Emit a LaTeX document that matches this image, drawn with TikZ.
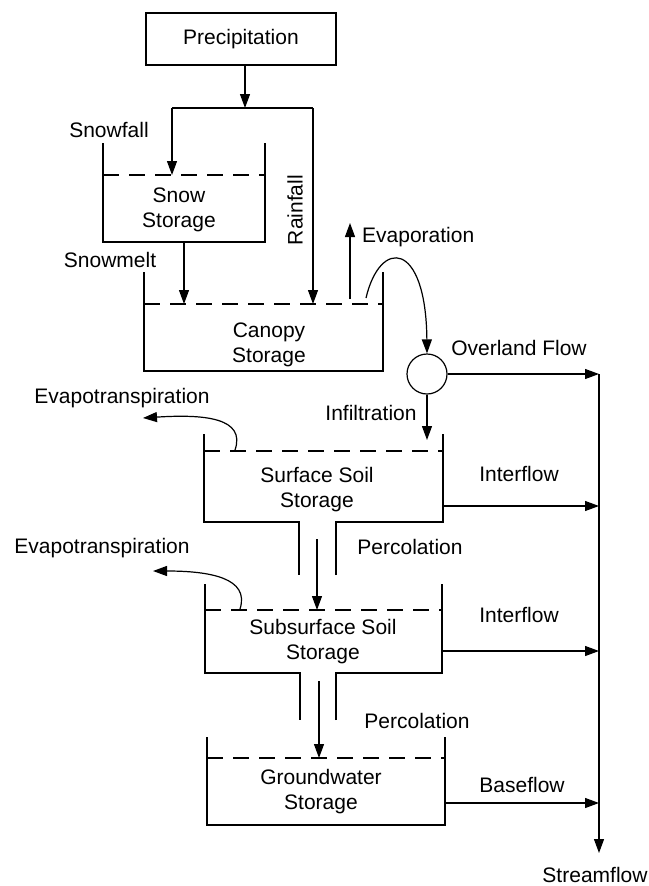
\documentclass[tikz,border=0pt]{standalone}
\usepackage{fontspec}
\setmainfont{Liberation Sans}
\usetikzlibrary{arrows.meta}
\begin{document}
\begin{tikzpicture}[x=1pt,y=-1pt,
  ln/.style={line width=1.2pt},
  dsh/.style={line width=1.2pt, dash pattern=on 16pt off 10pt},
  arr/.style={line width=1.2pt,-{Triangle[length=14pt,width=10pt]}},
  lbl/.style={font=\fontsize{21}{25}\selectfont, inner sep=0pt, align=center},
  ]
\useasboundingbox (0,0) rectangle (648,886);

% Precipitation
\node[lbl, draw, line width=1.2pt, minimum width=190pt, minimum height=52pt] (prec) at (241,39) {Precipitation};
\coordinate (split) at (245,108);
\coordinate (splitL) at (172,108);
\coordinate (splitR) at (313,108);
\draw[arr] (prec.south -| split) -- (split);
\draw[ln] (splitL) -- (splitR);

% Snow storage
\draw[ln] (103,143) -- (103,242) -- (265,242) -- (265,143);
\draw[dsh] (103,175) -- (265,175);
\coordinate (snowtop) at (172,175);
\draw[arr] (splitL) -- (snowtop);
\node[lbl] (snowfall) at (109,130) {Snowfall};
\node[lbl] (snow) at (179,210) {Snow\\Storage};

% Canopy storage
\draw[ln] (144,272) -- (144,371) -- (383,371) -- (383,272);
\draw[dsh] (144,304) -- (383,304);
\node[lbl] (canopy) at (269,345) {Canopy\\Storage};
\coordinate (snowbot) at (184,242);
\coordinate (canmelt) at (184,304);
\draw[arr] (snowbot) -- (canmelt);
\node[lbl] (snowmelt) at (110,260) {Snowmelt};
\coordinate (canrain) at (313,304);
\draw[arr] (splitR) -- (canrain);
\node[lbl, rotate=90] (rainfall) at (295,210) {Rainfall};
\coordinate (evapS) at (350,299);
\coordinate (evapE) at (350,223);
\draw[arr] (evapS) -- (evapE);
\node[lbl, anchor=west] (evaporation) at (362,237) {Evaporation};

% Overland flow junction
\node[draw, circle, line width=1.2pt, minimum size=40pt, inner sep=0pt] (junc) at (427,374) {};
\coordinate (canspill) at (366,298);
\draw[arr] (canspill) .. controls (380,238) and (426,240) .. (junc.north);
\coordinate (ovlEnd) at (599,374);
\draw[arr] (junc.east) -- (ovlEnd);
\node[lbl] (overland) at (519,348) {Overland Flow};

% Streamflow
\coordinate (streamEnd) at (599,853);
\draw[arr] (ovlEnd) -- (streamEnd);
\node[lbl] (streamflow) at (595,875) {Streamflow};

% Surface soil storage
\coordinate (infEnd) at (427,440);
\draw[arr] (junc.south) -- (infEnd);
\node[lbl] (infiltration) at (371,413) {Infiltration};
\draw[ln] (204,434) -- (204,522) -- (299,522) -- (299,575);
\draw[ln] (336,575) -- (336,522) -- (443,522) -- (443,434);
\draw[dsh] (204,451) -- (443,451);
\node[lbl] (surface) at (317,490) {Surface Soil\\Storage};
\coordinate (et1S) at (235,450);
\coordinate (et1E) at (143,418);
\draw[arr] (et1S) .. controls (246,418) and (205,414) .. (et1E);
\node[lbl] (et1) at (122,398) {Evapotranspiration};
\coordinate (if1S) at (443,506);
\coordinate (if1E) at (599,506);
\draw[arr] (if1S) -- (if1E);
\node[lbl] (interflow1) at (519,474) {Interflow};

% Subsurface soil storage
\coordinate (perc1S) at (317,539);
\coordinate (perc1E) at (317,610);
\draw[arr] (perc1S) -- (perc1E);
\node[lbl] (percolation1) at (410,547) {Percolation};
\draw[ln] (205,584) -- (205,673) -- (300,673) -- (300,720);
\draw[ln] (336,720) -- (336,673) -- (442,673) -- (442,584);
\draw[dsh] (205,610) -- (442,610);
\node[lbl] (subsurface) at (323,642) {Subsurface Soil\\Storage};
\coordinate (et2S) at (240,609);
\coordinate (et2E) at (153,571);
\draw[arr] (et2S) .. controls (250,578) and (210,571) .. (et2E);
\node[lbl] (et2) at (102,548) {Evapotranspiration};
\coordinate (if2S) at (442,651);
\coordinate (if2E) at (599,651);
\draw[arr] (if2S) -- (if2E);
\node[lbl] (interflow2) at (519,615) {Interflow};

% Groundwater storage
\coordinate (perc2S) at (319,681);
\coordinate (perc2E) at (319,758);
\draw[arr] (perc2S) -- (perc2E);
\node[lbl] (percolation2) at (417,721) {Percolation};
\draw[ln] (207,737) -- (207,825) -- (445,825) -- (445,737);
\draw[dsh] (207,758) -- (445,758);
\node[lbl] (ground) at (321,792) {Groundwater\\Storage};
\coordinate (bfS) at (445,803);
\coordinate (bfE) at (599,803);
\draw[arr] (bfS) -- (bfE);
\node[lbl] (baseflow) at (522,785) {Baseflow};
\end{tikzpicture}
\end{document}
